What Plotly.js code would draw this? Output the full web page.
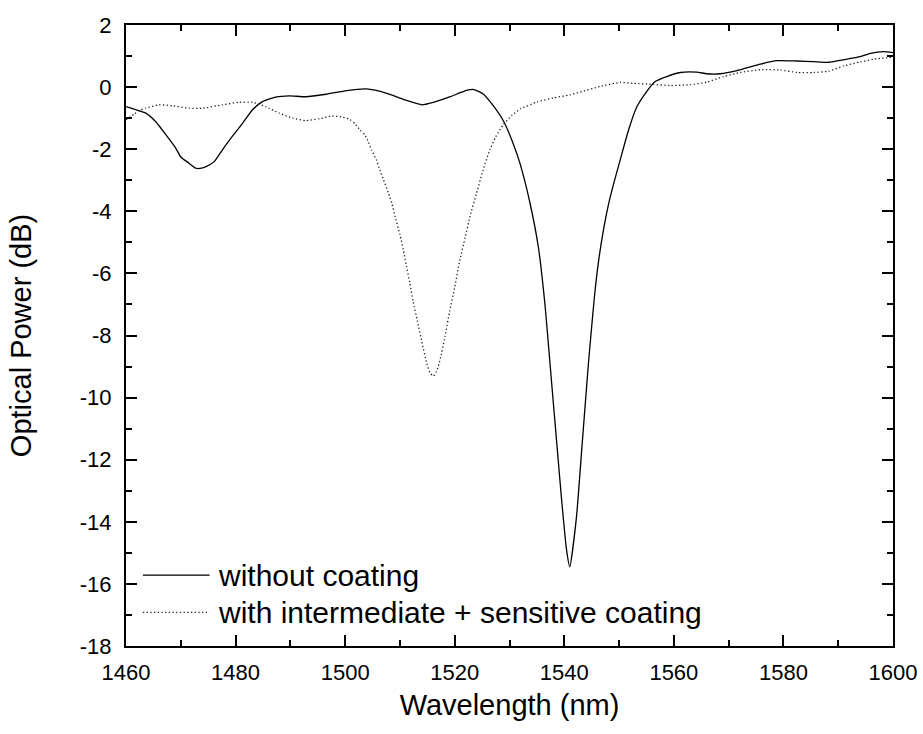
<!DOCTYPE html>
<html>
<head>
<meta charset="utf-8">
<script src="https://cdn.plot.ly/plotly-3.0.1.min.js"></script>
<style>html,body{margin:0;padding:0;background:#fff;}#chart{width:923px;height:734px;}</style>
</head>
<body>
<div id="chart"></div>
<script>
// Series 1: without coating
const wlWithout = [1460,1462,1463.6,1465.4,1467.3,1469.1,1470,1471.5,1472.7,1473.5,1474.6,1476.1,1477.6,1479.4,1481.3,1483.1,1484.9,1487.3,1489.8,1492.8,1496.5,1500.3,1503.9,1507.6,1511.2,1514,1516.1,1519.2,1521,1522.5,1523.5,1525.2,1527,1528.9,1530.7,1531.9,1533.7,1535.3,1536.5,1537.4,1538.6,1539.5,1540.4,1541,1542.2,1543.3,1544.4,1545.5,1546.3,1547.2,1548.1,1549.1,1550.2,1551.7,1553.2,1554.8,1556.6,1558.7,1561.2,1564.2,1566,1568.5,1571.5,1575.8,1578.8,1582.5,1585.5,1588.2,1591.6,1594,1595.9,1598.3,1600];
const pwWithout = [-0.63,-0.74,-0.84,-1.11,-1.54,-1.97,-2.25,-2.45,-2.61,-2.62,-2.56,-2.40,-2.02,-1.59,-1.16,-0.73,-0.47,-0.32,-0.28,-0.31,-0.23,-0.11,-0.06,-0.20,-0.43,-0.57,-0.49,-0.31,-0.18,-0.09,-0.08,-0.22,-0.59,-1.09,-1.83,-2.45,-3.70,-5.19,-7.05,-8.92,-11.41,-13.27,-14.89,-15.45,-13.89,-11.41,-8.92,-6.75,-5.55,-4.55,-3.75,-3.05,-2.35,-1.40,-0.65,-0.20,0.18,0.34,0.47,0.48,0.43,0.43,0.53,0.74,0.85,0.84,0.82,0.80,0.90,0.98,1.09,1.14,1.11];

// Series 2: with intermediate + sensitive coating
const wlCoated = [1460,1461.5,1462.5,1463.6,1466,1468.5,1471.5,1474,1477.6,1480.6,1483.1,1485.5,1488,1490.4,1492.8,1495.3,1497.7,1499.6,1500.9,1501.8,1502.7,1503.6,1504.2,1504.8,1505.7,1506.3,1507,1507.9,1508.5,1509.1,1510,1510.6,1511.2,1511.8,1512.4,1513.2,1514,1514.9,1515.5,1516.1,1516.7,1517.3,1518.2,1519.1,1520,1520.9,1521.9,1522.8,1524,1525.2,1526.4,1527.5,1528.9,1530.5,1532,1535,1538,1541,1542.9,1546.5,1550.2,1552.6,1556.3,1559.3,1563,1566,1569.1,1572.1,1575.8,1579.4,1582.5,1585.5,1588.2,1591,1594,1596.5,1600];
const pwCoated = [-1.05,-0.87,-0.75,-0.68,-0.57,-0.60,-0.68,-0.68,-0.57,-0.49,-0.49,-0.63,-0.84,-1.00,-1.08,-1.02,-0.93,-0.97,-1.05,-1.18,-1.38,-1.54,-1.75,-2.02,-2.34,-2.66,-2.98,-3.41,-3.73,-4.16,-4.75,-5.23,-5.77,-6.30,-6.90,-7.55,-8.20,-8.90,-9.20,-9.31,-9.15,-8.80,-8.05,-7.20,-6.45,-5.60,-4.85,-4.16,-3.41,-2.66,-2.02,-1.60,-1.20,-0.90,-0.70,-0.48,-0.35,-0.25,-0.16,0.02,0.15,0.12,0.09,0.05,0.08,0.16,0.34,0.47,0.56,0.55,0.47,0.47,0.51,0.68,0.81,0.90,0.96];

const seriesNames = ["without coating", "with intermediate + sensitive coating"];
const yTickVals = [2,0,-2,-4,-6,-8,-10,-12,-14,-16,-18];
const yTickText = ["2","0","-2","-4","-6","-8","-10","-12","-14","-16","-18"];
const xTickVals = [1460,1480,1500,1520,1540,1560,1580,1600];

const FONT = "Liberation Sans, Arial, Helvetica, sans-serif";
const DOTS = "1.3px,2.4px";

const traces = [
  {x: wlWithout, y: pwWithout, name: seriesNames[0], mode: "lines",
   line: {color: "#000", width: 1.3, shape: "spline", smoothing: 0.5}},
  {x: wlCoated, y: pwCoated, name: seriesNames[1], mode: "lines",
   line: {color: "#222", width: 1.3, dash: DOTS, shape: "spline", smoothing: 0.5}}
];

const axisCommon = {
  showline: true, linecolor: "#000", linewidth: 2, mirror: "ticks",
  ticks: "inside", ticklen: 11, tickwidth: 2, tickcolor: "#000",
  showgrid: false, zeroline: false,
  tickfont: {family: FONT, size: 22, color: "#000"}
};

const layout = {
  width: 923, height: 734,
  margin: {l: 126, r: 30, t: 25, b: 88},
  paper_bgcolor: "#fff", plot_bgcolor: "#fff",
  showlegend: false,
  xaxis: Object.assign({}, axisCommon, {
    range: [1460, 1600], tickvals: xTickVals, ticklabelstandoff: 6,
    minor: {ticks: "inside", ticklen: 6, tickwidth: 2, tickcolor: "#000", dtick: 10, showgrid: false},
    title: {text: "Wavelength (nm)", font: {family: FONT, size: 29, color: "#000"}, standoff: 10}
  }),
  yaxis: Object.assign({}, axisCommon, {
    range: [-18, 2], tickvals: yTickVals, ticktext: yTickText, ticklabelstandoff: 8,
    minor: {ticks: "inside", ticklen: 6, tickwidth: 2, tickcolor: "#000", dtick: 1, showgrid: false},
    title: {text: "Optical Power (dB)", font: {family: FONT, size: 29, color: "#000"}, standoff: 40}
  }),
  shapes: [
    {type: "line", xref: "paper", yref: "paper", x0: 0.022, x1: 0.109, y0: 0.114, y1: 0.114,
     line: {color: "#000", width: 1.3}},
    {type: "line", xref: "paper", yref: "paper", x0: 0.022, x1: 0.109, y0: 0.054, y1: 0.054,
     line: {color: "#222", width: 1.3, dash: DOTS}}
  ],
  annotations: [
    {xref: "paper", yref: "paper", x: 0.117, y: 0.114, xanchor: "left", yanchor: "middle",
     text: seriesNames[0], showarrow: false, font: {family: FONT, size: 30, color: "#000"}},
    {xref: "paper", yref: "paper", x: 0.117, y: 0.054, xanchor: "left", yanchor: "middle",
     text: seriesNames[1], showarrow: false, font: {family: FONT, size: 30, color: "#000"}}
  ]
};

Plotly.newPlot("chart", traces, layout, {staticPlot: true, displayModeBar: false});
</script>
</body>
</html>
